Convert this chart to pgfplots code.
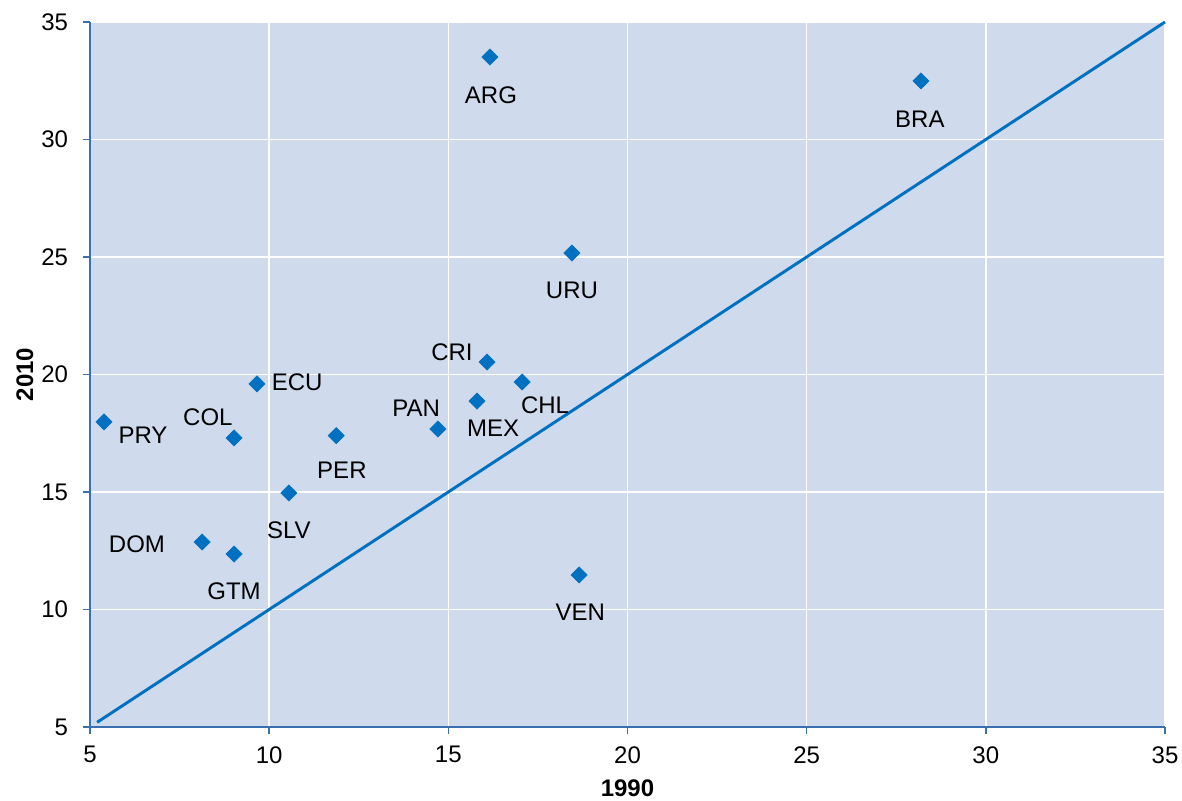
\documentclass[border=0pt]{standalone}
\usepackage{pgfplots}
\pgfplotsset{compat=1.18}
\usepackage{fontspec}
\setmainfont{Liberation Sans}
\definecolor{bg}{HTML}{CFDAEC}
\definecolor{pt}{HTML}{0070C0}
\definecolor{ax}{HTML}{3A6FB0}
\begin{document}
\begin{tikzpicture}
\begin{axis}[
    scale only axis,
    width=806.25pt, height=528.75pt,
    xmin=5, xmax=35, ymin=5, ymax=35,
    xtick={5,10,...,35}, ytick={5,10,...,35},
    axis background/.style={fill=bg},
    axis x line*=bottom, axis y line*=left,
    axis line style={ax, line width=1.5pt, -},
    tick style={ax, line width=1.2pt},
    tick align=outside,
    major tick length=5pt,
    grid=major,
    major grid style={white, line width=1.2pt},
    font=\fontsize{18}{21}\selectfont,
    /pgf/number format/assume math mode=true,
    xticklabel style={yshift=-6pt},
    yticklabel style={xshift=-8pt},
    xlabel={\textbf{1990}}, ylabel={\textbf{2010}},
    xlabel style={yshift=-5.5pt},
    ylabel style={yshift=-1pt},
    clip=false,
]
\coordinate (sw) at (rel axis cs:0,0);
\coordinate (ne) at (rel axis cs:1,1);
\addplot[pt, line width=2.2pt, no marks] coordinates {(5.2,5.2) (35,35)};
\addplot[only marks, mark=square*, mark size=4.3pt, mark options={pt, rotate=45}]
coordinates {
(16.16,33.51) (28.19,32.49) (18.45,25.17) (16.08,20.53) (17.06,19.68)
(15.80,18.87) (14.71,17.68) (9.66,19.60) (5.39,17.98) (9.02,17.30)
(11.87,17.40) (10.55,14.96) (8.13,12.87) (9.02,12.36) (18.65,11.47)
};
\node[font=\fontsize{18}{21}\selectfont] at (axis cs:16.19,31.89) {ARG};
\node[font=\fontsize{18}{21}\selectfont] at (axis cs:28.16,30.87) {BRA};
\node[font=\fontsize{18}{21}\selectfont] at (axis cs:18.45,23.60) {URU};
\node[font=\fontsize{18}{21}\selectfont] at (axis cs:15.10,20.96) {CRI};
\node[font=\fontsize{18}{21}\selectfont] at (axis cs:17.70,18.70) {CHL};
\node[font=\fontsize{18}{21}\selectfont] at (axis cs:16.25,17.72) {MEX};
\node[font=\fontsize{18}{21}\selectfont] at (axis cs:14.10,18.57) {PAN};
\node[font=\fontsize{18}{21}\selectfont] at (axis cs:10.78,19.68) {ECU};
\node[font=\fontsize{18}{21}\selectfont] at (axis cs:6.48,17.43) {PRY};
\node[font=\fontsize{18}{21}\selectfont] at (axis cs:8.29,18.19) {COL};
\node[font=\fontsize{18}{21}\selectfont] at (axis cs:12.03,15.94) {PER};
\node[font=\fontsize{18}{21}\selectfont] at (axis cs:10.55,13.38) {SLV};
\node[font=\fontsize{18}{21}\selectfont] at (axis cs:6.31,12.79) {DOM};
\node[font=\fontsize{18}{21}\selectfont] at (axis cs:9.02,10.79) {GTM};
\node[font=\fontsize{18}{21}\selectfont] at (axis cs:18.68,9.89) {VEN};
\end{axis}
\pgfresetboundingbox
\useasboundingbox ([xshift=-67.5pt,yshift=-55.5pt]sw) rectangle ([xshift=12.75pt,yshift=16.5pt]ne);
\end{tikzpicture}
\end{document}
